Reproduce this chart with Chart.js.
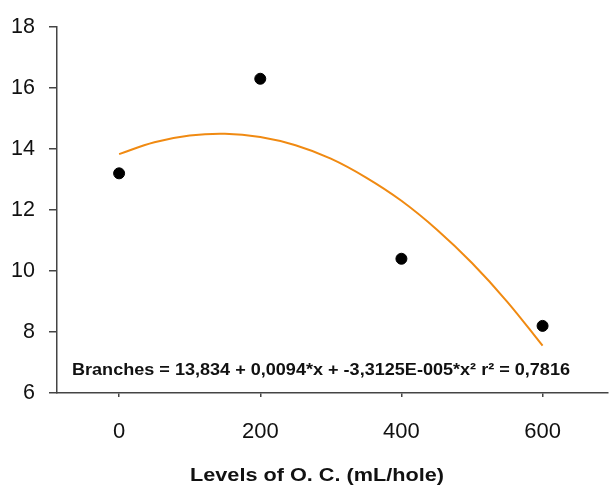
<!DOCTYPE html>
<html>
<head>
<meta charset="utf-8">
<script src="https://cdn.jsdelivr.net/npm/chart.js@4.4.1/dist/chart.umd.min.js"></script>
<style>
  html, body { margin: 0; padding: 0; background: #fff; }
  #wrap { width: 614px; height: 485px; position: relative; }
</style>
</head>
<body>
<div id="wrap"><canvas id="c"></canvas></div>
<script>
// observed values (Levels of O. C. vs branches)
const levels = [0, 200, 400, 600];
const branches = [13.2, 16.3, 10.4, 8.2];

// fitted curve
const curveX = [0, 50, 100, 150, 200, 250, 300, 350, 400, 450, 500, 550, 600];
const curveY = [13.83, 14.22, 14.44, 14.50, 14.39, 14.12, 13.68, 13.06, 12.30, 11.36, 10.26, 8.99, 7.55];

const xTicks = [0, 200, 400, 600];
const yTicks = [6, 8, 10, 12, 14, 16, 18];

const equation = 'Branches = 13,834 + 0,0094*x + -3,3125E-005*x\u00B2 r\u00B2 = 0,7816';
const xTitle = 'Levels of O. C. (mL/hole)';

const FONT = 'Arial, "Liberation Sans", sans-serif';

// ─── TEXT LABELS ──────────────────────────────────────────────────────────────
const textLabels = {
  id: 'textLabels',
  afterDatasetsDraw(chart) {
    const ctx = chart.ctx;
    ctx.save();
    ctx.fillStyle = '#111';
    ctx.textBaseline = 'middle';

    // regression equation, squeezed to the width it has in the figure
    ctx.font = 'bold 17px ' + FONT;
    const w = ctx.measureText(equation).width;
    ctx.save();
    ctx.translate(72, 370);
    ctx.scale(498 / w, 1);
    ctx.fillText(equation, 0, 0);
    ctx.restore();

    // x axis title
    ctx.font = 'bold 19px ' + FONT;
    const tw = ctx.measureText(xTitle).width;
    ctx.save();
    ctx.translate(190, 476);
    ctx.scale(254 / tw, 1);
    ctx.fillText(xTitle, 0, 0);
    ctx.restore();

    ctx.restore();
  }
};

new Chart(document.getElementById('c'), {
  type: 'scatter',
  data: {
    datasets: [
      {
        data: levels.map((x, i) => ({ x, y: branches[i] })),
        backgroundColor: '#000',
        borderColor: '#000',
        pointRadius: 5.5,
        order: 1
      },
      {
        type: 'line',
        data: curveX.map((x, i) => ({ x, y: curveY[i] })),
        borderColor: '#f08a12',
        borderWidth: 2,
        pointRadius: 0,
        tension: 0.4,
        fill: false,
        order: 2
      }
    ]
  },
  plugins: [textLabels],
  options: {
    responsive: true,
    maintainAspectRatio: false,
    animation: false,
    layout: { padding: { top: 24, right: 0, left: 0, bottom: 0 } },
    plugins: {
      legend: { display: false },
      tooltip: { enabled: false }
    },
    scales: {
      x: {
        type: 'linear',
        min: -88,
        max: 692,
        afterBuildTicks: s => { s.ticks = xTicks.map(v => ({ value: v })); },
        afterFit: s => { s.height = 92; },
        border: { color: '#444', width: 1.5 },
        grid: { drawOnChartArea: false, tickLength: 4, color: '#444', lineWidth: 1.5 },
        ticks: { color: '#111', font: { family: FONT, size: 22 }, padding: 22, maxRotation: 0 }
      },
      y: {
        min: 6,
        max: 18,
        afterBuildTicks: s => { s.ticks = yTicks.map(v => ({ value: v })); },
        afterFit: s => { s.width = 57; },
        border: { color: '#444', width: 1.5 },
        grid: { drawOnChartArea: false, tickLength: 8, color: '#444', lineWidth: 1.5 },
        ticks: { color: '#111', font: { family: FONT, size: 21.5 }, padding: 14 }
      }
    }
  }
});
</script>
</body>
</html>
